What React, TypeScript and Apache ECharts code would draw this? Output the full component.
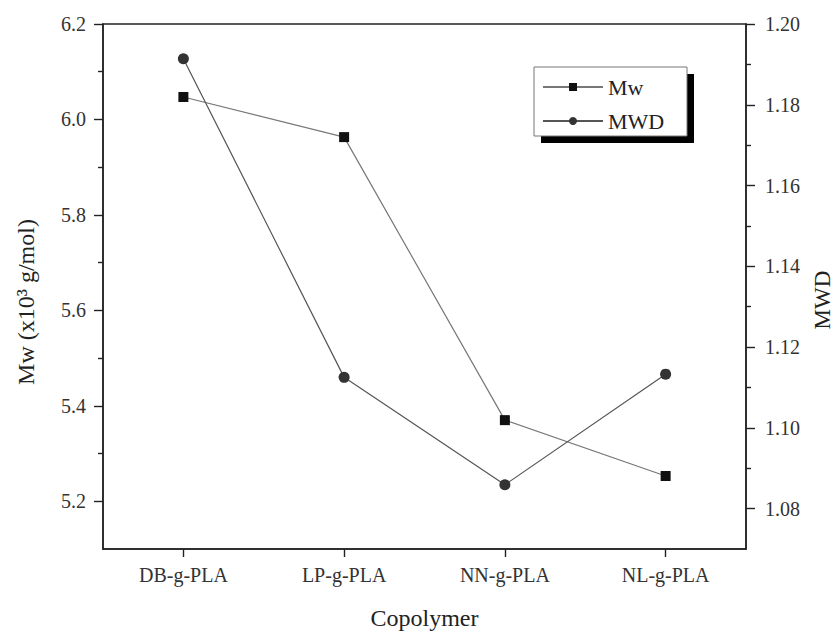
import React, { useEffect, useRef } from "react";
import * as echarts from "echarts";

const categories = ["DB-g-PLA", "LP-g-PLA", "NN-g-PLA", "NL-g-PLA"];
const mwValues = [6.047, 5.963, 5.37, 5.253];
const mwdValues = [1.1914, 1.1125, 1.0859, 1.1133];
const leftMajorTicks = [5.2, 5.4, 5.6, 5.8, 6.0, 6.2];
const leftMinorTicks = [5.3, 5.5, 5.7, 5.9, 6.1];
const rightMajorTicks = [1.08, 1.1, 1.12, 1.14, 1.16, 1.18, 1.2];
const rightMinorTicks = [1.09, 1.11, 1.13, 1.15, 1.17, 1.19];

const FONT = '"Liberation Serif", "DejaVu Serif", serif';
const AXIS = "#222";
const TXT = "#333";

export default function App() {
  const ref = useRef<HTMLDivElement>(null);
  useEffect(() => {
    if (!ref.current) return;
    const chart = echarts.init(ref.current, null, { renderer: "svg" });
    const baseY = (min: number, max: number, pos: string) => ({
      type: "value",
      min,
      max,
      position: pos,
      splitLine: { show: false },
    });
    chart.setOption({
      animation: false,
      backgroundColor: "#fff",
      textStyle: { fontFamily: FONT },
      grid: {
        left: 103,
        right: 90,
        top: 24,
        bottom: 84,
        show: true,
        borderColor: AXIS,
        borderWidth: 1.5,
        backgroundColor: "transparent",
      },
      xAxis: {
        type: "category",
        data: categories,
        boundaryGap: true,
        name: "Copolymer",
        nameLocation: "middle",
        nameGap: 57,
        nameTextStyle: { fontSize: 24, fontFamily: FONT, color: "#222" },
        axisLine: { lineStyle: { color: AXIS, width: 1.5 } },
        axisTick: { show: true, alignWithLabel: true, length: 8, lineStyle: { color: AXIS, width: 1.4 } },
        axisLabel: { margin: 16, fontSize: 20, fontFamily: FONT, color: TXT },
        splitLine: { show: false },
      },
      yAxis: [
        {
          ...baseY(5.1, 6.2, "left"),
          axisLine: { show: true, lineStyle: { color: AXIS, width: 1.5 } },
          axisTick: { show: true, length: 9, customValues: leftMajorTicks, lineStyle: { color: AXIS, width: 1.4 } },
          axisLabel: {
            margin: 17,
            fontSize: 20,
            fontFamily: FONT,
            color: TXT,
            customValues: leftMajorTicks,
            formatter: (v: number) => v.toFixed(1),
          },
        },
        {
          ...baseY(1.07, 1.2, "right"),
          axisLine: { show: true, lineStyle: { color: AXIS, width: 1.5 } },
          axisTick: { show: true, length: 9, customValues: rightMajorTicks, lineStyle: { color: AXIS, width: 1.4 } },
          axisLabel: {
            margin: 19,
            fontSize: 20,
            fontFamily: FONT,
            color: TXT,
            customValues: rightMajorTicks,
            formatter: (v: number) => v.toFixed(2),
          },
        },
        {
          ...baseY(5.1, 6.2, "left"),
          offset: 0,
          axisLine: { show: false },
          axisTick: { show: true, length: 5, customValues: leftMinorTicks, lineStyle: { color: AXIS, width: 1.4 } },
          axisLabel: { show: false },
        },
        {
          ...baseY(1.07, 1.2, "right"),
          offset: 0,
          axisLine: { show: false },
          axisTick: { show: true, length: 5, customValues: rightMinorTicks, lineStyle: { color: AXIS, width: 1.4 } },
          axisLabel: { show: false },
        },
      ],
      legend: {
        data: ["Mw", "MWD"],
        orient: "vertical",
        left: 534,
        top: 67,
        padding: [9, 20, 5, 8],
        itemWidth: 60,
        itemHeight: 10,
        itemGap: 12,
        z: 20,
        textStyle: { fontSize: 22, fontFamily: FONT, color: "#222" },
      },
      graphic: [
        {
          type: "rect",
          z: 10,
          shape: { x: 541, y: 74, width: 153, height: 69 },
          style: { fill: "#000" },
        },
        {
          type: "rect",
          z: 11,
          shape: { x: 534, y: 67, width: 153, height: 69 },
          style: { fill: "#fff", stroke: "#777", lineWidth: 1 },
        },
        {
          type: "text",
          x: 26,
          y: 302,
          rotation: Math.PI / 2,
          style: {
            text: "Mw (x10³ g/mol)",
            fontSize: 24,
            fontFamily: FONT,
            fill: "#222",
            align: "center",
            verticalAlign: "middle",
          },
        },
        {
          type: "text",
          x: 822,
          y: 300,
          rotation: Math.PI / 2,
          style: {
            text: "MWD",
            fontSize: 23,
            fontFamily: FONT,
            fill: "#222",
            align: "center",
            verticalAlign: "middle",
          },
        },
      ],
      series: [
        {
          name: "Mw",
          type: "line",
          yAxisIndex: 0,
          data: mwValues,
          symbol: "rect",
          symbolSize: 10,
          itemStyle: { color: "#111" },
          lineStyle: { color: "#777", width: 1.2 },
        },
        {
          name: "MWD",
          type: "line",
          yAxisIndex: 1,
          data: mwdValues,
          symbol: "circle",
          symbolSize: 11,
          itemStyle: { color: "#333" },
          lineStyle: { color: "#555", width: 1.2 },
        },
      ],
    });
    return () => chart.dispose();
  }, []);
  return (
    <div
      ref={ref}
      style={{ position: "fixed", left: 0, top: 0, width: 836, height: 635 }}
    />
  );
}
